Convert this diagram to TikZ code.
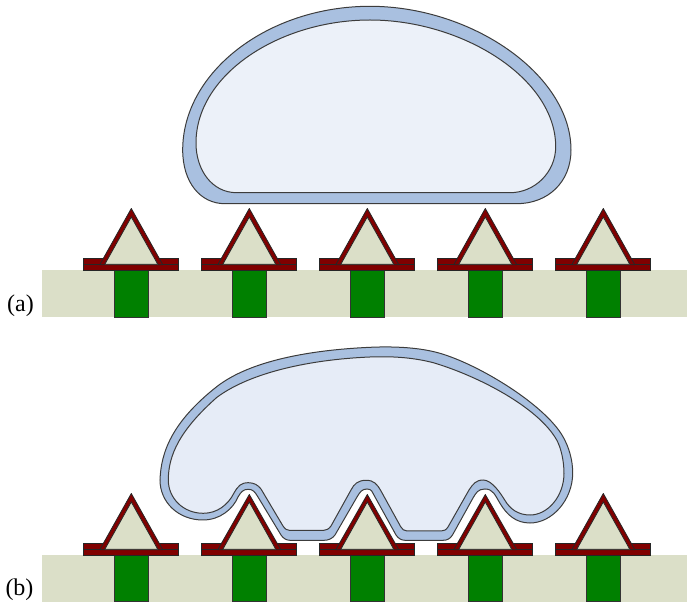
\documentclass[tikz,border=0pt]{standalone}
\usepackage{fontspec}
\setmainfont{Liberation Serif}
\definecolor{basefill}{HTML}{DBDFC8}
\definecolor{viagreen}{HTML}{008000}
\definecolor{pindark}{HTML}{800000}
\definecolor{ringblue}{HTML}{A9C0E0}
\definecolor{cellpale}{HTML}{ECF1F9}
\definecolor{cellsoft}{HTML}{E6ECF7}
\definecolor{ringline}{HTML}{3C3C3C}

\begin{document}
\begin{tikzpicture}[x=0.75pt,y=0.75pt,yscale=-1,xscale=1,
  base/.style={fill=basefill},
  via/.style={draw=black!80,line width=0.75pt,fill=viagreen},
  flange/.style={draw=black!85,line width=0.6pt,fill=pindark},
  cone/.style={draw=black!85,line width=0.6pt,fill=pindark,line join=round},
  core/.style={draw=black!85,line width=0.6pt,fill=basefill},
  ring/.style={draw=ringline,line width=0.75pt,fill=ringblue},
  label/.style={inner sep=0pt,font=\fontsize{18}{20}\selectfont}]
\useasboundingbox (0,0) rectangle (687,606);

%Shape: Rectangle [substrate top]
\fill [base] (42,269.7) rectangle (687,317.5);
%Shape: Rectangle [substrate bottom]
\fill [base] (42,554.7) rectangle (687,602.3);

%Shape: Pins top row
\draw [via] (114.3,270) rectangle (148.6,317.3);
\draw [flange] (83.8,258.7) rectangle (178.8,270) (83.8,264.7) -- (178.8,264.7);
\draw [cone] (99.8,264.7) -- (131.3,208.5) -- (162.8,264.7) -- cycle;
\draw [core] (104.8,264.3) -- (131.3,217) -- (157.8,264.3) -- cycle;

\draw [via] (232.3,270) rectangle (266.6,317.3);
\draw [flange] (201.8,258.7) rectangle (296.8,270) (201.8,264.7) -- (296.8,264.7);
\draw [cone] (217.8,264.7) -- (249.3,208.5) -- (280.8,264.7) -- cycle;
\draw [core] (222.8,264.3) -- (249.3,217) -- (275.8,264.3) -- cycle;

\draw [via] (350.3,270) rectangle (384.6,317.3);
\draw [flange] (319.8,258.7) rectangle (414.8,270) (319.8,264.7) -- (414.8,264.7);
\draw [cone] (335.8,264.7) -- (367.3,208.5) -- (398.8,264.7) -- cycle;
\draw [core] (340.8,264.3) -- (367.3,217) -- (393.8,264.3) -- cycle;

\draw [via] (468.3,270) rectangle (502.6,317.3);
\draw [flange] (437.8,258.7) rectangle (532.8,270) (437.8,264.7) -- (532.8,264.7);
\draw [cone] (453.8,264.7) -- (485.3,208.5) -- (516.8,264.7) -- cycle;
\draw [core] (458.8,264.3) -- (485.3,217) -- (511.8,264.3) -- cycle;

\draw [via] (586.3,270) rectangle (620.6,317.3);
\draw [flange] (555.8,258.7) rectangle (650.8,270) (555.8,264.7) -- (650.8,264.7);
\draw [cone] (571.8,264.7) -- (603.3,208.5) -- (634.8,264.7) -- cycle;
\draw [core] (576.8,264.3) -- (603.3,217) -- (629.8,264.3) -- cycle;

%Shape: Pins bottom row
\draw [via] (114.3,555) rectangle (148.6,602);
\draw [flange] (83.8,543.7) rectangle (178.8,555) (83.8,549.7) -- (178.8,549.7);
\draw [cone] (99.8,549.7) -- (131.3,493.5) -- (162.8,549.7) -- cycle;
\draw [core] (104.8,549.3) -- (131.3,502) -- (157.8,549.3) -- cycle;

\draw [via] (232.3,555) rectangle (266.6,602);
\draw [flange] (201.8,543.7) rectangle (296.8,555) (201.8,549.7) -- (296.8,549.7);
\draw [cone] (217.8,549.7) -- (249.3,494.5) -- (280.8,549.7) -- cycle;
\draw [core] (222.8,549.3) -- (249.3,502) -- (275.8,549.3) -- cycle;

\draw [via] (350.3,555) rectangle (384.6,602);
\draw [flange] (319.8,543.7) rectangle (414.8,555) (319.8,549.7) -- (414.8,549.7);
\draw [cone] (335.8,549.7) -- (367.3,494.5) -- (398.8,549.7) -- cycle;
\draw [core] (340.8,549.3) -- (367.3,502) -- (393.8,549.3) -- cycle;

\draw [via] (468.3,555) rectangle (502.6,602);
\draw [flange] (437.8,543.7) rectangle (532.8,555) (437.8,549.7) -- (532.8,549.7);
\draw [cone] (453.8,549.7) -- (485.3,494.5) -- (516.8,549.7) -- cycle;
\draw [core] (458.8,549.3) -- (485.3,502) -- (511.8,549.3) -- cycle;

\draw [via] (586.3,555) rectangle (620.6,602);
\draw [flange] (555.8,543.7) rectangle (650.8,555) (555.8,549.7) -- (650.8,549.7);
\draw [cone] (571.8,549.7) -- (603.3,493.5) -- (634.8,549.7) -- cycle;
\draw [core] (576.8,549.3) -- (603.3,502) -- (629.8,549.3) -- cycle;

%Shape: Polygon Curved [resting cell, wall]
\draw [ring] (225,203.7) .. controls (200,203.7) and (182.7,182) .. (182.7,150)
  .. controls (182.7,72) and (268,6.3) .. (370,6.3)
  .. controls (472,6.3) and (571,75) .. (571,150)
  .. controls (571,182) and (548,203.7) .. (516.7,203.7) -- cycle ;
%Shape: Polygon Curved [resting cell, interior]
\draw [ring,fill=cellpale] (236.7,192.7) .. controls (212,192.7) and (196,170) .. (196,143)
  .. controls (196,74) and (280,20) .. (370,20)
  .. controls (462,20) and (555.7,78) .. (555.7,146.7)
  .. controls (555.7,172) and (535,192.7) .. (510,192.7) -- cycle ;

%Shape: Polygon Curved [pressed cell, wall]
\draw [ring] (160,480) .. controls (161,452) and (172,422) .. (216.7,386.7)
  .. controls (250,360.7) and (310,350) .. (370,347.3)
  .. controls (395,346.2) and (420,347.5) .. (440,353.3)
  .. controls (480,365) and (545,405) .. (563,436.7)
  .. controls (569,447.3) and (572.7,460) .. (572.7,473)
  .. controls (572.7,500) and (552,523) .. (530,523)
  .. controls (516,523) and (507,515) .. (500,503.3)
  .. controls (495,495) and (493,489) .. (485,489)
  .. controls (478,489) and (476,493) .. (473,498) -- (452.5,535)
  .. controls (450,539) and (447,540.3) .. (443,540.3) -- (405,540.3)
  .. controls (401,540.3) and (398,538) .. (396,535) -- (375,497)
  .. controls (372,492) and (372,489) .. (367,489)
  .. controls (362,489) and (360,492) .. (357,497) -- (335,535)
  .. controls (332,539) and (328,540.3) .. (324,540.3) -- (290,540.3)
  .. controls (286,540.3) and (283,538) .. (281,535) -- (258,497)
  .. controls (255,492) and (253,489.3) .. (248.3,489.3)
  .. controls (243,489.3) and (241,492) .. (238,497)
  .. controls (233,509) and (220,520) .. (203,520)
  .. controls (178,520) and (160,502) .. (160,480) -- cycle ;
%Shape: Polygon Curved [pressed cell, interior]
\draw [ring,fill=cellsoft] (168.3,480) .. controls (168.3,455) and (180,430) .. (216.7,397.5)
  .. controls (250,372.5) and (310,359.5) .. (370,357)
  .. controls (395,356) and (415,358) .. (433.3,362.7)
  .. controls (478,376) and (538,407) .. (556.7,440)
  .. controls (561,447.7) and (564,461) .. (564,473.3)
  .. controls (564,496) and (548,515) .. (530,515)
  .. controls (518,515) and (510,509) .. (504.7,500)
  .. controls (501,494) and (492,480) .. (483.3,480)
  .. controls (476,480) and (473,484) .. (469,490) -- (448,527)
  .. controls (446,530) and (444,531) .. (441,531) -- (407,531)
  .. controls (404,531) and (402,529) .. (400.7,526.7) -- (381,491)
  .. controls (377,484) and (374,480.3) .. (366,480.3)
  .. controls (358,480.3) and (354,484) .. (351,490) -- (331,526)
  .. controls (329,529) and (326,530.5) .. (323,530.5) -- (290,530.5)
  .. controls (287,530.5) and (285,529) .. (283,526) -- (261,489)
  .. controls (258,485) and (254,482.7) .. (248.3,482.7)
  .. controls (241,482.7) and (238,486) .. (234,493)
  .. controls (228,505) and (217,513.3) .. (203.3,513.3)
  .. controls (183,513.3) and (168.3,498) .. (168.3,480) -- cycle ;

% Text Node
\node (labelTop) [label,anchor=center] at (20.5,306) {(a)};
% Text Node
\node (labelBottom) [label,anchor=center] at (19.5,590) {(b)};
\end{tikzpicture}
\end{document}
